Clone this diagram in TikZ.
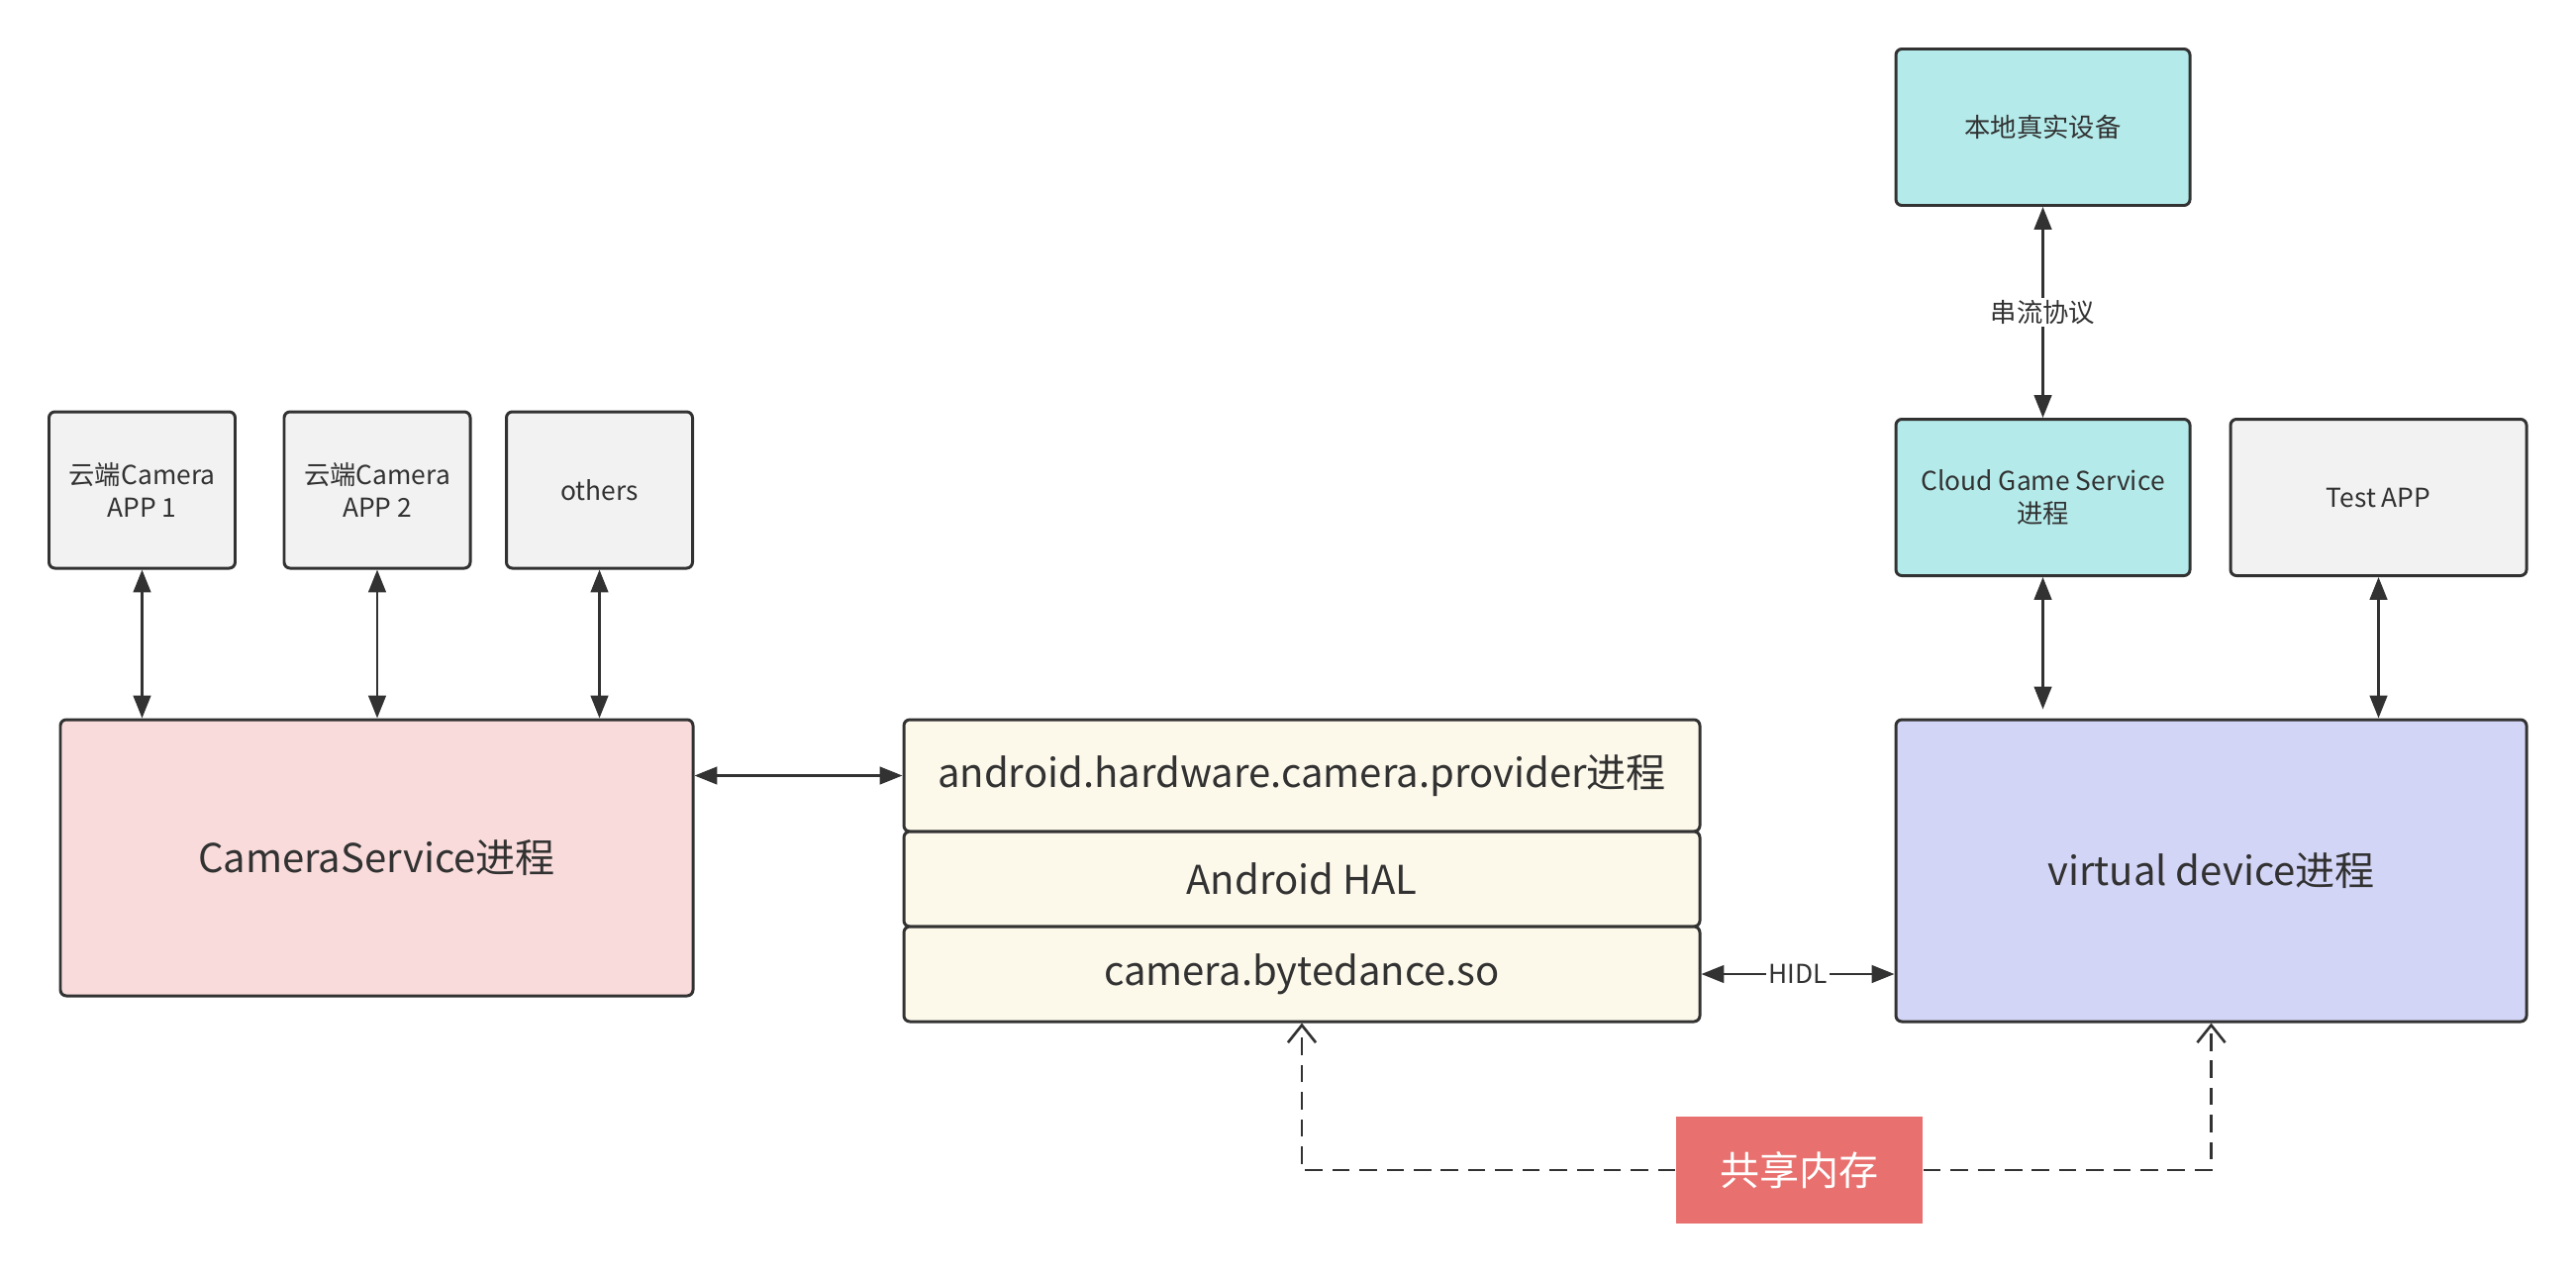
\documentclass[tikz,border=0pt]{standalone}
\usepackage{fontspec}
\setmainfont{Noto Sans CJK SC}
\usetikzlibrary{arrows.meta}

\definecolor{lineclr}{HTML}{323232}
\definecolor{appgray}{HTML}{F2F2F2}
\definecolor{cspink}{HTML}{F9DBDB}
\definecolor{halcream}{HTML}{FCF8EA}
\definecolor{cloudcyan}{HTML}{B4EAEA}
\definecolor{vdlav}{HTML}{D3D5F6}
\definecolor{shmred}{HTML}{E8706E}

\tikzset{
  box/.style={draw=lineclr, line width=0.85pt, rounded corners=0.6mm, text=lineclr,
    align=center, inner sep=0pt},
  smallbox/.style={box, minimum height=15.8mm, font=\fontsize{7.5}{9.2}\selectfont},
  bigfont/.style={font=\fontsize{11.4}{13}\selectfont},
  link/.style={draw=lineclr, line width=0.75pt,
    {Triangle[length=6.5pt,width=5pt]}-{Triangle[length=6.5pt,width=5pt]}},
  shmlink/.style={draw=lineclr, line width=0.75pt, dash pattern=on 5pt off 2.8pt,
    -{Straight Barb[length=5pt,width=8pt]}},
  linklabel/.style={fill=white, text=lineclr, inner sep=0.6pt, font=\fontsize{7.5}{9}\selectfont},
}

\begin{document}
\begin{tikzpicture}[x=0.1mm, y=-0.1mm]

    \useasboundingbox (0,0) rectangle (2602,1286);

    % apps on the left
    \node[smallbox, fill=appgray, minimum width=18.8mm] (app1) at (143.5,495) {云端Camera\\APP 1};
    \node[smallbox, fill=appgray, minimum width=18.8mm] (app2) at (381,495) {云端Camera\\APP 2};
    \node[smallbox, fill=appgray, minimum width=18.8mm] (others) at (605.5,495) {others};
    \node[box, bigfont, fill=cspink, minimum width=63.9mm, minimum height=27.9mm] (cs) at (380.5,866.5) {CameraService进程};

    % HAL stack
    \node[box, bigfont, fill=halcream, minimum width=80.4mm, minimum height=11.3mm] (prov) at (1315,783.5) {android.hardware.camera.provider进程};
    \node[box, bigfont, fill=halcream, minimum width=80.4mm, minimum height=9.6mm] (hal) at (1315,888) {Android HAL};
    \node[box, bigfont, fill=halcream, minimum width=80.4mm, minimum height=9.6mm] (so) at (1315,984) {camera.bytedance.so};

    % right side
    \node[smallbox, fill=cloudcyan, minimum width=29.7mm] (local) at (2063.5,128.5) {本地真实设备};
    \node[smallbox, fill=cloudcyan, minimum width=29.7mm] (cloud) at (2063.5,502.5) {Cloud Game Service\\进程};
    \node[smallbox, fill=appgray, minimum width=29.9mm] (test) at (2402.5,502.5) {Test APP};
    \node[box, bigfont, fill=vdlav, minimum width=63.7mm, minimum height=30.5mm] (vd) at (2233.5,879.5) {virtual device进程};

    \node[bigfont, fill=shmred, text=white, minimum width=24.9mm, minimum height=10.8mm] (shm) at (1817.5,1182) {共享内存};

    \foreach \n in {app1,app2,others}
    \draw[link] (\n.south) -- (\n.south |- cs.north);

    \draw[link] (cs.east |- prov.west) -- (prov.west);
    \draw[link] (so.east) -- (so.east -| vd.west) node[midway, linklabel] {HIDL};
    \draw[link] (local.south) -- (cloud.north) node[midway, linklabel] {串流协议};
    \draw[link, shorten >=0.9mm] (cloud.south) -- (cloud.south |- vd.north);
    \draw[link] (test.south) -- (test.south |- vd.north);

    \draw[shmlink] (shm.west) -| (so.south);
    \draw[shmlink] (shm.east) -| (vd.south);

\end{tikzpicture}
\end{document}
